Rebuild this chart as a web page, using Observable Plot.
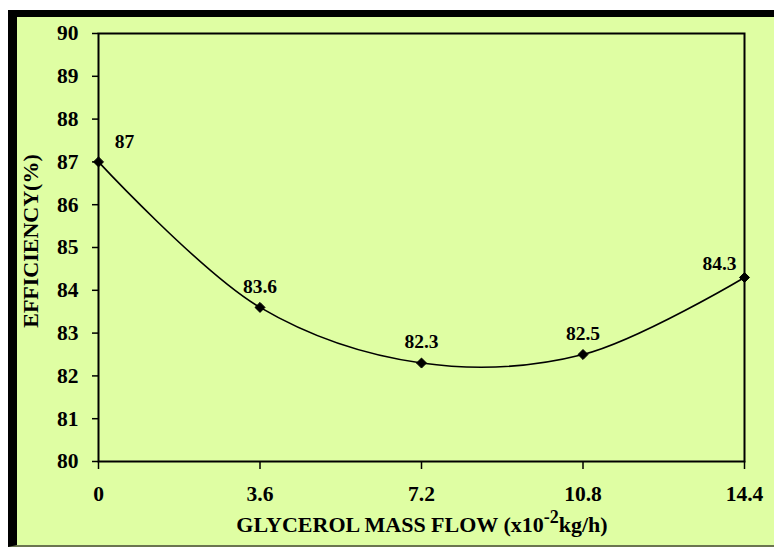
<!DOCTYPE html>
<html>
<head>
<meta charset="utf-8">
<script src="https://cdn.jsdelivr.net/npm/d3@7"></script>
<script src="https://cdn.jsdelivr.net/npm/@observablehq/plot@0.6"></script>
<style>
  html, body { margin: 0; padding: 0; background: #ffffff; }
  #wrap { position: relative; width: 774px; height: 549px; overflow: hidden; }
  #panel { position: absolute; left: 8px; top: 10px; width: 766px; height: 537px;
           background: #dffea3; border-left: 9px solid #000; border-top: 7px solid #000;
           border-bottom: 2px solid #6b7550; box-sizing: border-box; }
  #chart { position: absolute; left: 0; top: 0; }
  #chart svg { background: transparent; }
</style>
</head>
<body>
<div id="wrap"><div id="panel"></div><div id="chart"></div></div>
<script>
const massFlow = [0, 3.6, 7.2, 10.8, 14.4];
const efficiency = [87, 83.6, 82.3, 82.5, 84.3];
const xTicks = [0, 3.6, 7.2, 10.8, 14.4];
const yTicks = [80, 81, 82, 83, 84, 85, 86, 87, 88, 89, 90];
const yTitle = "EFFICIENCY(%)";
const xTitleParts = ["GLYCEROL MASS FLOW (x10", "-2", "kg/h)"];

const data = massFlow.map((x, i) => ({x, y: efficiency[i], i}));
const font = "'Liberation Serif', 'Times New Roman', serif";
const n = data.length;

const chart = Plot.plot({
  width: 774,
  height: 549,
  marginLeft: 98,
  marginRight: 30,
  marginTop: 33,
  marginBottom: 88,
  style: {fontFamily: font, fontSize: "21px", fontWeight: "bold", color: "#000", background: "transparent"},
  x: {domain: [0, 14.4], ticks: xTicks, tickFormat: d => String(d), label: null},
  y: {domain: [80, 90], ticks: yTicks, tickFormat: d => String(d), label: null},
  marks: [
    Plot.axisX({ticks: xTicks, tickSize: 8, tickPadding: 16, tickFormat: d => String(d), stroke: "#000", strokeWidth: 1.5, label: null}),
    Plot.axisY({ticks: yTicks, tickSize: 6, tickPadding: 14, tickFormat: d => String(d), stroke: "#000", strokeWidth: 1.5, label: null}),
    Plot.frame({stroke: "#000", strokeWidth: 2}),
    Plot.line(data, {x: "x", y: "y", curve: "catmull-rom", stroke: "#000", strokeWidth: 1.6}),
    Plot.dot(data, {x: "x", y: "y", symbol: "diamond2", r: 4.5, fill: "#000", stroke: "#000", strokeWidth: 1}),
    Plot.text(data, {filter: d => d.i === 0, x: "x", y: "y", text: d => String(d.y), dx: 26, dy: -20, fill: "#000"}),
    Plot.text(data, {filter: d => d.i > 0 && d.i < n - 1, x: "x", y: "y", text: d => String(d.y), dy: -21, fill: "#000"}),
    Plot.text(data, {filter: d => d.i === n - 1, x: "x", y: "y", text: d => String(d.y), dx: -25, dy: -14, fill: "#000"})
  ]
});
document.getElementById("chart").appendChild(chart);

const svg = d3.select(chart);
svg.selectAll("g[aria-label$='tick label']").attr("font-size", 21.5).attr("font-weight", "bold");
svg.selectAll("g[aria-label='text']").attr("font-size", 19.5).attr("font-weight", "bold");

svg.append("text")
  .attr("transform", "translate(38,241) rotate(-90)")
  .attr("text-anchor", "middle")
  .attr("font-family", font)
  .attr("font-size", 22)
  .attr("font-weight", "bold")
  .attr("fill", "#000")
  .text(yTitle);

const xt = svg.append("text")
  .attr("x", 422)
  .attr("y", 532)
  .attr("text-anchor", "middle")
  .attr("font-family", font)
  .attr("font-size", 22)
  .attr("font-weight", "bold")
  .attr("fill", "#000");
xt.append("tspan").text(xTitleParts[0]);
xt.append("tspan").attr("dy", -9).attr("font-size", 18).text(xTitleParts[1]);
xt.append("tspan").attr("dy", 9).text(xTitleParts[2]);
</script>
</body>
</html>
